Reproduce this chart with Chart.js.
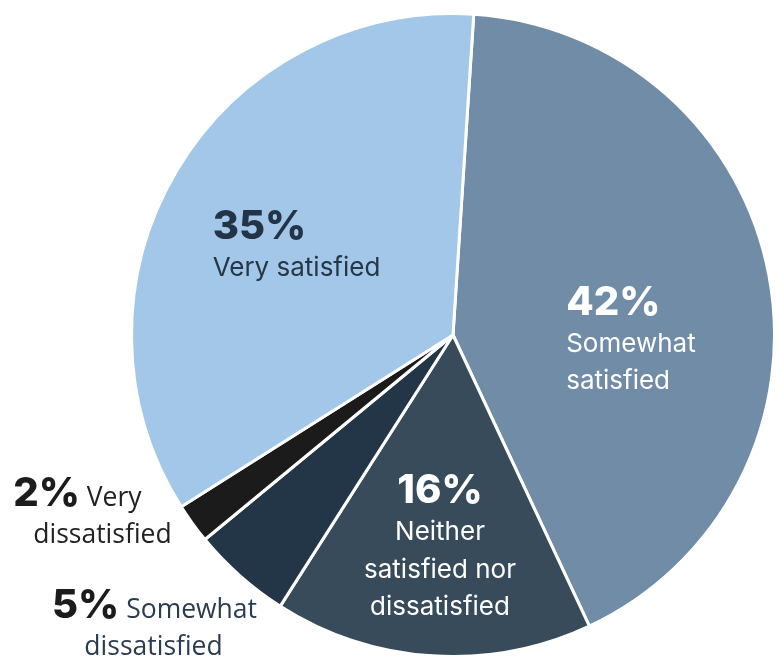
<!DOCTYPE html>
<html>
<head>
<meta charset="utf-8">
<script src="https://cdn.jsdelivr.net/npm/chart.js@4.4.0/dist/chart.umd.min.js"></script>
<style>
  html, body { margin: 0; padding: 0; background: #ffffff; }
  #wrap { width: 779px; height: 660px; position: relative; }
</style>
</head>
<body>
<div id="wrap"><canvas id="pieChart"></canvas></div>
<script>
const categories = ['Somewhat satisfied', 'Neither satisfied nor dissatisfied', 'Somewhat dissatisfied', 'Very dissatisfied', 'Very satisfied'];
const shares = [42, 16, 5, 2, 35];
const sliceColors = ['#718ca6', '#374b5a', '#223648', '#1b1b1b', '#a3c7e9'];

// label layout, offsets are px from the pie centre at reference radius 321
const labelLayout = [
    { align: 'left', lines: [
        { dx: 113, dy: -20, parts: [{ t: '42%', big: true }] },
        { dx: 113, dy: 17, parts: [{ t: 'Somewhat' }] },
        { dx: 113, dy: 54, parts: [{ t: 'satisfied' }] }
    ], color: '#ffffff', pctColor: '#ffffff' },
    { align: 'center', lines: [
        { dx: -13, dy: 168, parts: [{ t: '16%', big: true }] },
        { dx: -13, dy: 205, parts: [{ t: 'Neither' }] },
        { dx: -13, dy: 243, parts: [{ t: 'satisfied nor' }] },
        { dx: -13, dy: 280, parts: [{ t: 'dissatisfied' }] }
    ], color: '#ffffff', pctColor: '#ffffff' },
    { align: 'center', outside: true, lines: [
        { dx: -298, dy: 283, parts: [{ t: '5%', big: true }, { t: ' Somewhat' }] },
        { dx: -299, dy: 320, parts: [{ t: 'dissatisfied' }] }
    ], color: '#2a3d50', pctColor: '#1c1c1c' },
    { align: 'center', outside: true, lines: [
        { dx: -375, dy: 171, parts: [{ t: '2%', big: true }, { t: ' Very' }] },
        { dx: -350, dy: 208, parts: [{ t: 'dissatisfied' }] }
    ], color: '#222222', pctColor: '#1c1c1c' },
    { align: 'left', lines: [
        { dx: -240, dy: -96, parts: [{ t: '35%', big: true }] },
        { dx: -240, dy: -59, parts: [{ t: 'Very satisfied' }] }
    ], color: '#253746', pctColor: '#223446' }
];

const sliceLabels = {
    id: 'sliceLabels',
    afterDatasetsDraw(chart) {
        const ctx = chart.ctx;
        const arc = chart.getDatasetMeta(0).data[0];
        const cx = arc.x, cy = arc.y;
        const k = arc.outerRadius / 321;
        ctx.save();
        ctx.textBaseline = 'alphabetic';
        labelLayout.forEach(lab => {
            lab.lines.forEach(line => {
                const fonts = line.parts.map(p => p.big
                    ? '800 40px Inter'
                    : (lab.outside ? '400 26.5px "Open Sans"' : '400 26px Inter'));
                let total = 0;
                const widths = line.parts.map((p, i) => {
                    ctx.font = fonts[i];
                    const w = ctx.measureText(p.t).width;
                    total += w;
                    return w;
                });
                let x = cx + line.dx * k;
                if (lab.align === 'center') x -= total / 2;
                const y = cy + line.dy * k;
                line.parts.forEach((p, i) => {
                    ctx.font = fonts[i];
                    ctx.fillStyle = p.big ? lab.pctColor : lab.color;
                    ctx.textAlign = 'left';
                    ctx.fillText(p.t, x, y);
                    x += widths[i];
                });
            });
        });
        ctx.restore();
    }
};

const pieChart = new Chart(document.getElementById('pieChart').getContext('2d'), {
    type: 'pie',
    data: {
        labels: categories,
        datasets: [{
            data: shares,
            backgroundColor: sliceColors,
            borderColor: '#ffffff',
            borderWidth: 3
        }]
    },
    options: {
        responsive: true,
        maintainAspectRatio: false,
        animation: false,
        rotation: 3.7,
        layout: {
            padding: { left: 130, right: 3, top: 12, bottom: 2 }
        },
        plugins: {
            legend: { display: false },
            tooltip: { enabled: false },
            title: { display: false }
        }
    },
    plugins: [sliceLabels]
});
</script>
</body>
</html>
